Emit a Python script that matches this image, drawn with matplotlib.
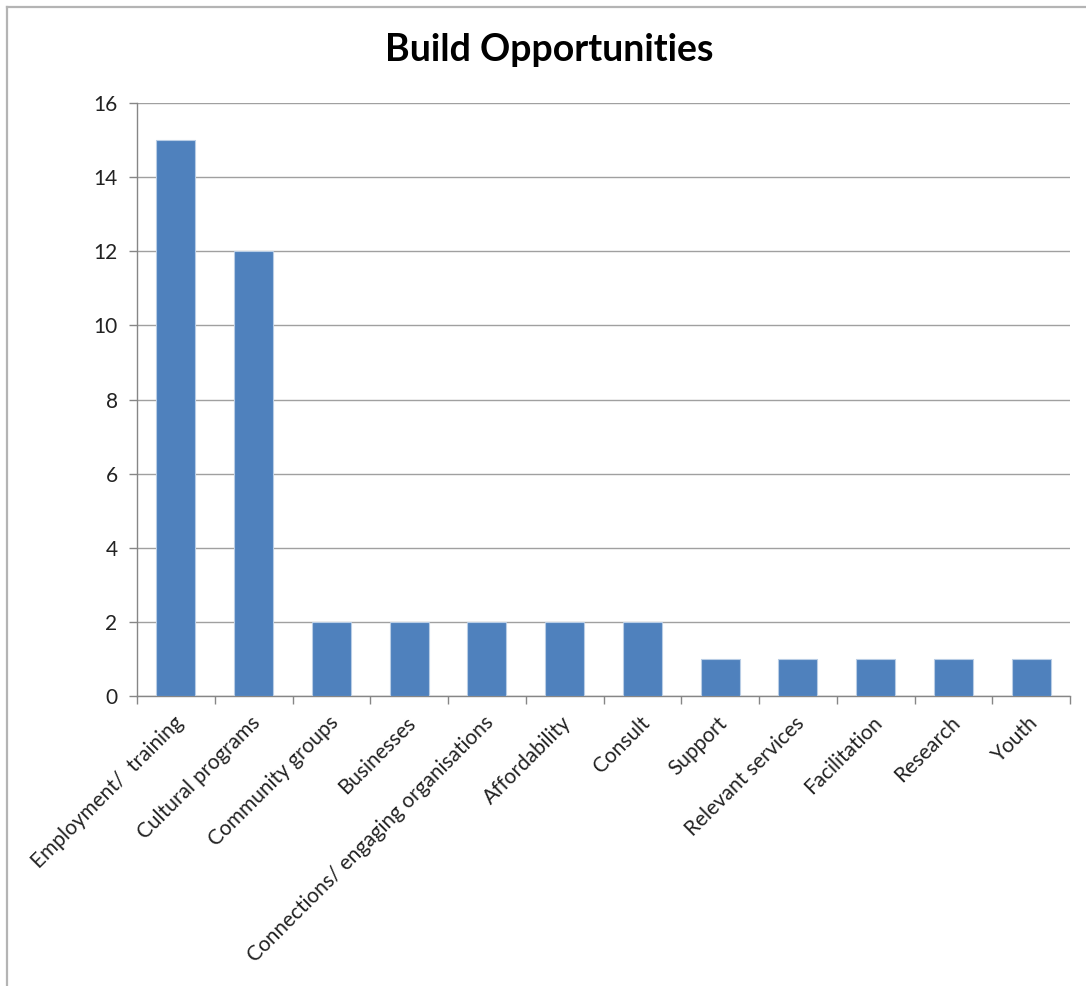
import matplotlib
matplotlib.use("Agg")
import matplotlib.pyplot as plt
from matplotlib.lines import Line2D

categories = ["Employment/  training", "Cultural programs", "Community groups", "Businesses",
              "Connections/ engaging organisations", "Affordability", "Consult", "Support",
              "Relevant services", "Facilitation", "Research", "Youth"]
values = [15, 12, 2, 2, 2, 2, 2, 1, 1, 1, 1, 1]
yticks = [0, 2, 4, 6, 8, 10, 12, 14, 16]

plt.rcParams['font.family'] = ['Lato', 'DejaVu Sans']

W, H = 1086, 986
fig = plt.figure(figsize=(W / 100, H / 100), dpi=100)
# frame lines (top and left only)
fig.lines.append(Line2D([7 / W, 1.0], [1 - 7 / H, 1 - 7 / H], transform=fig.transFigure,
                        color='#B4B4B4', linewidth=1.6))
fig.lines.append(Line2D([7 / W, 7 / W], [0.0, 1 - 7 / H], transform=fig.transFigure,
                        color='#B4B4B4', linewidth=1.6))

ax = fig.add_axes([137 / W, 1 - 696 / H, 933 / W, 593 / H])

x = list(range(len(categories)))
ax.bar(x, values, width=0.5, color='#4F81BD', edgecolor='#B9CDE5', linewidth=0.8, zorder=3)
ax.set_xlim(-0.5, len(categories) - 0.5)
ax.set_ylim(0, 16)
ax.set_yticks(yticks)
ax.set_yticklabels([str(v) for v in yticks], fontsize=15, color='#222222')
ax.grid(axis='y', color='#A0A0A0', linewidth=1.0, zorder=0)
ax.set_axisbelow(True)

ax.set_xticks([i - 0.5 for i in range(len(categories) + 1)])
ax.set_xticklabels([])
ax.tick_params(axis='x', length=6, color='#868686', width=1)
ax.tick_params(axis='y', length=6, color='#868686', width=1, pad=8)
for i, c in enumerate(categories):
    ax.text(i - 0.04, -0.45, c, rotation=45, ha='right', va='top', rotation_mode='anchor',
            fontsize=15, color='#222222', transform=ax.transData)

for s in ['top', 'right']:
    ax.spines[s].set_visible(False)
for s in ['left', 'bottom']:
    ax.spines[s].set_color('#868686')
    ax.spines[s].set_linewidth(1.0)

fig.text(549 / W, 1 - 50 / H, "Build Opportunities", ha='center', va='center',
         fontsize=27, fontweight='bold', color='black')

fig.savefig("out.png", dpi=100)
